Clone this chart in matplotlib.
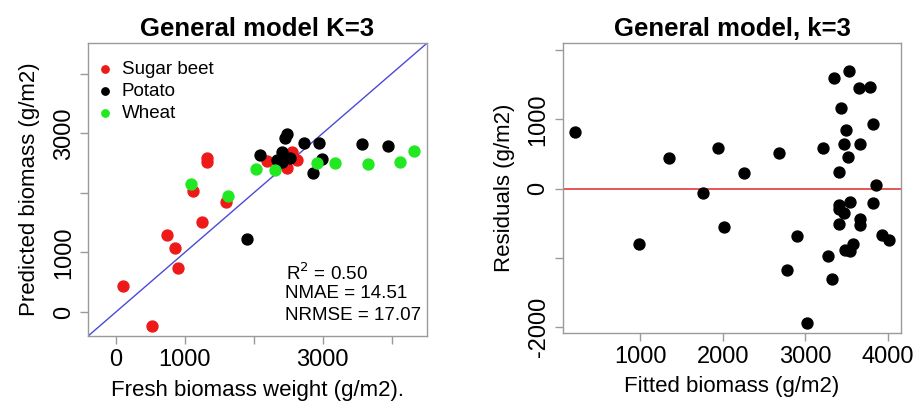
import numpy as np
import matplotlib
matplotlib.use("Agg")
import matplotlib.pyplot as plt

plt.rcParams["font.family"] = ["Liberation Sans", "DejaVu Sans"]

# observed vs predicted, per crop
beet_obs = [106, 518, 735, 856, 905, 1113, 1253, 1316, 1326, 1597, 2187, 2477, 2550, 2622]
beet_pred = [437, -236, 1290, 1082, 740, 2036, 1503, 2580, 2524, 1851, 2541, 2412, 2692, 2552]
potato_obs = [1896, 2090, 2332, 2404, 2404, 2453, 2477, 2525, 2733, 2855, 2946, 2985, 3575, 3943]
potato_pred = [1234, 2636, 2552, 2692, 2524, 2916, 2990, 2580, 2832, 2328, 2843, 2563, 2821, 2793]
wheat_obs = [1089, 1630, 2027, 2308, 2912, 3179, 3657, 4122, 4325]
wheat_pred = [2142, 1946, 2400, 2384, 2496, 2496, 2479, 2524, 2703]

# residuals vs fitted
fitted = [215, 992, 1348, 1761, 1943, 2012, 2259, 2680, 2781, 2895, 3016, 3211, 3279,
          3320, 3348, 3401, 3401, 3409, 3409, 3425, 3462, 3470, 3482, 3494, 3510, 3522,
          3543, 3543, 3575, 3652, 3664, 3664, 3664, 3777, 3814, 3818, 3854, 3927, 4008]
resid = [811, -801, 446, -67, 580, -561, 230, 508, -1170, -681, -1947, 590, -969,
         -1314, 1602, -245, -508, 235, -290, 1156, -355, 643, -882, 844, 460, 1693,
         -201, -906, -796, 1453, 638, -441, -532, 1468, -211, 930, 53, -676, -739]

RED = "#ee1a1a"
GREEN = "#22e822"
FRAME = "#9a9a9a"

fig = plt.figure(figsize=(9.15, 4.03), dpi=100)
ax1 = fig.add_axes([0.0962, 0.166, 0.3705, 0.727])
ax2 = fig.add_axes([0.615, 0.174, 0.370, 0.719])

for ax in (ax1, ax2):
    for s in ax.spines.values():
        s.set_color(FRAME)
        s.set_linewidth(1.0)
    ax.tick_params(colors=FRAME, labelcolor="black", labelsize=17, length=6, width=1)

ms = 62
ax1.axline((0, 0), slope=1, color="#4a4ad6", lw=1.0, zorder=1)
ax1.scatter(beet_obs, beet_pred, s=ms, color=RED, zorder=2)
ax1.scatter(potato_obs, potato_pred, s=ms, color="black", zorder=3)
ax1.scatter(wheat_obs, wheat_pred, s=ms, color=GREEN, zorder=3)
ax1.set_xlim(-405, 4515)
ax1.set_ylim(-405, 4515)
ax1.set_xticks([0, 1000, 2000, 3000, 4000])
ax1.set_xticklabels(["0", "1000", "", "3000", ""])
ax1.set_yticks([0, 1000, 2000, 3000, 4000])
ax1.set_yticklabels(["0", "1000", "", "3000", ""], rotation=90, va="center")
ax1.set_xlabel("Fresh biomass weight (g/m2).", fontsize=16, labelpad=6)
ax1.set_ylabel("Predicted biomass (g/m2)", fontsize=16, labelpad=9)
ax1.set_title("General model K=3", fontsize=18.5, fontweight="bold", pad=5)

for lab, c, yy in [("Sugar beet", RED, 0.91), ("Potato", "black", 0.835), ("Wheat", GREEN, 0.76)]:
    ax1.scatter([0.05], [yy], s=28, color=c, transform=ax1.transAxes, clip_on=False)
    ax1.text(0.1, yy, lab, transform=ax1.transAxes, fontsize=13.5, va="center")

ax1.text(0.585, 0.215, r"R$^2$ = 0.50", transform=ax1.transAxes, fontsize=13.5, va="center")
ax1.text(0.58, 0.145, "NMAE = 14.51", transform=ax1.transAxes, fontsize=13.5, va="center")
ax1.text(0.58, 0.07, "NRMSE = 17.07", transform=ax1.transAxes, fontsize=13.5, va="center")

ax2.axhline(0, color="#e03a3a", lw=1.2, zorder=1)
ax2.scatter(fitted, resid, s=ms, color="black", zorder=2)
ax2.set_xlim(63, 4160)
ax2.set_ylim(-2085, 2100)
ax2.set_xticks([1000, 2000, 3000, 4000])
ax2.set_yticks([-2000, -1000, 0, 1000, 2000])
ax2.set_yticklabels(["-2000", "", "0", "1000", ""], rotation=90, va="center")
ax2.set_xlabel("Fitted biomass (g/m2)", fontsize=16, labelpad=6)
ax2.set_ylabel("Residuals (g/m2)", fontsize=16, labelpad=9)
ax2.set_title("General model, k=3", fontsize=18.5, fontweight="bold", pad=5)

fig.savefig("out.png", dpi=100)
